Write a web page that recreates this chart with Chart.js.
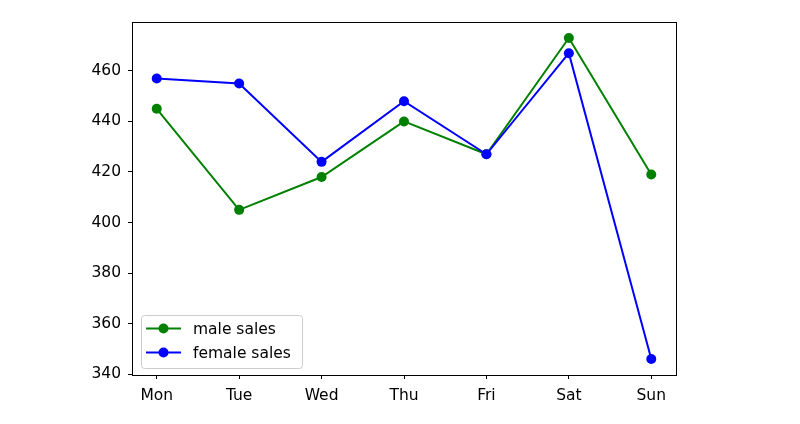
<!DOCTYPE html>
<html>
<head>
<meta charset="utf-8">
<script src="https://cdn.jsdelivr.net/npm/chart.js@4/dist/chart.umd.min.js"></script>
<style>
html,body{margin:0;padding:0;background:#fff;}
#wrap{width:800px;height:424px;}
</style>
</head>
<body>
<div id="wrap"><canvas id="c" width="800" height="424"></canvas></div>
<script>
const categories = ["Mon","Tue","Wed","Thu","Fri","Sat","Sun"];
const maleSales = [445, 405, 418, 440, 427, 473, 419];
const femaleSales = [457, 455, 424, 448, 427, 467, 346];
const yTicks = [340, 360, 380, 400, 420, 440, 460];
const seriesLabels = ["male sales", "female sales"];

const FONT = "'DejaVu Sans', sans-serif";
const FSIZE = 15.5;
const allVals = maleSales.concat(femaleSales);
const vMin = Math.min(...allVals), vMax = Math.max(...allVals);
const vPad = (vMax - vMin) * 0.05;
const xPad = (categories.length - 1) * 0.05;

const toXY = arr => arr.map((v, i) => ({x: i, y: v}));

const boxPlugin = {
  id: 'box',
  afterDatasetsDraw(chart) {
    const a = chart.chartArea, ctx = chart.ctx;
    ctx.save();
    ctx.strokeStyle = '#000';
    ctx.lineWidth = 1;
    ctx.strokeRect(Math.round(a.left) + 0.5, Math.round(a.top) + 0.5, Math.round(a.right - a.left), Math.round(a.bottom - a.top));
    ctx.restore();
  }
};

const legendPlugin = {
  id: 'mplLegend',
  afterDraw(chart) {
    const ctx = chart.ctx, a = chart.chartArea;
    const x0 = a.left + 9, y0 = a.bottom - 60, w = 161, h = 53;
    ctx.save();
    ctx.fillStyle = 'rgba(255,255,255,0.8)';
    ctx.strokeStyle = '#cccccc';
    ctx.lineWidth = 1;
    ctx.beginPath();
    if (ctx.roundRect) ctx.roundRect(x0 + 0.5, y0 + 0.5, w, h, 3); else ctx.rect(x0 + 0.5, y0 + 0.5, w, h);
    ctx.fill(); ctx.stroke();
    const items = [
      {label: seriesLabels[0], color: '#008000'},
      {label: seriesLabels[1], color: '#0000ff'}
    ];
    ctx.font = FSIZE + 'px ' + FONT;
    ctx.textBaseline = 'middle';
    items.forEach((it, i) => {
      const cy = y0 + 13.5 + i * 24;
      ctx.strokeStyle = it.color;
      ctx.lineWidth = 2;
      ctx.beginPath();
      ctx.moveTo(x0 + 5, cy);
      ctx.lineTo(x0 + 40, cy);
      ctx.stroke();
      ctx.fillStyle = it.color;
      ctx.beginPath();
      ctx.arc(x0 + 22.5, cy, 5, 0, Math.PI * 2);
      ctx.fill();
      ctx.fillStyle = '#000';
      ctx.fillText(it.label, x0 + 52, cy + 1);
    });
    ctx.restore();
  }
};

new Chart(document.getElementById('c'), {
  type: 'line',
  data: {
    datasets: [
      {label: seriesLabels[0], data: toXY(maleSales), borderColor: '#008000', backgroundColor: '#008000',
       borderWidth: 2, pointRadius: 5, pointHoverRadius: 5, pointBorderWidth: 0, tension: 0, order: 1},
      {label: seriesLabels[1], data: toXY(femaleSales), borderColor: '#0000ff', backgroundColor: '#0000ff',
       borderWidth: 2, pointRadius: 5, pointHoverRadius: 5, pointBorderWidth: 0, tension: 0, order: 0}
    ]
  },
  options: {
    responsive: false,
    animation: false,
    devicePixelRatio: 1,
    layout: {padding: {top: 22, right: 124, left: 0, bottom: 0}},
    plugins: {legend: {display: false}, tooltip: {enabled: false}},
    scales: {
      x: {
        type: 'linear',
        min: -xPad, max: categories.length - 1 + xPad,
        afterBuildTicks: s => { s.ticks = categories.map((c, i) => ({value: i})); },
        afterFit: s => { s.height = 49; },
        ticks: {
          callback: v => categories[v],
          color: '#000', font: {family: FONT, size: FSIZE}, padding: 8, maxRotation: 0, autoSkip: false
        },
        grid: {display: true, drawOnChartArea: false, drawTicks: true, tickLength: 4, color: '#000'},
        border: {display: true, color: '#000', width: 1}
      },
      y: {
        type: 'linear',
        min: vMin - vPad, max: vMax + vPad,
        afterBuildTicks: s => { s.ticks = yTicks.map(v => ({value: v})); },
        afterFit: s => { s.width = 132; },
        ticks: {color: '#000', font: {family: FONT, size: FSIZE}, padding: 7},
        grid: {display: true, drawOnChartArea: false, drawTicks: true, tickLength: 4, color: '#000'},
        border: {display: true, color: '#000', width: 1}
      }
    }
  },
  plugins: [boxPlugin, legendPlugin]
});
</script>
</body>
</html>
